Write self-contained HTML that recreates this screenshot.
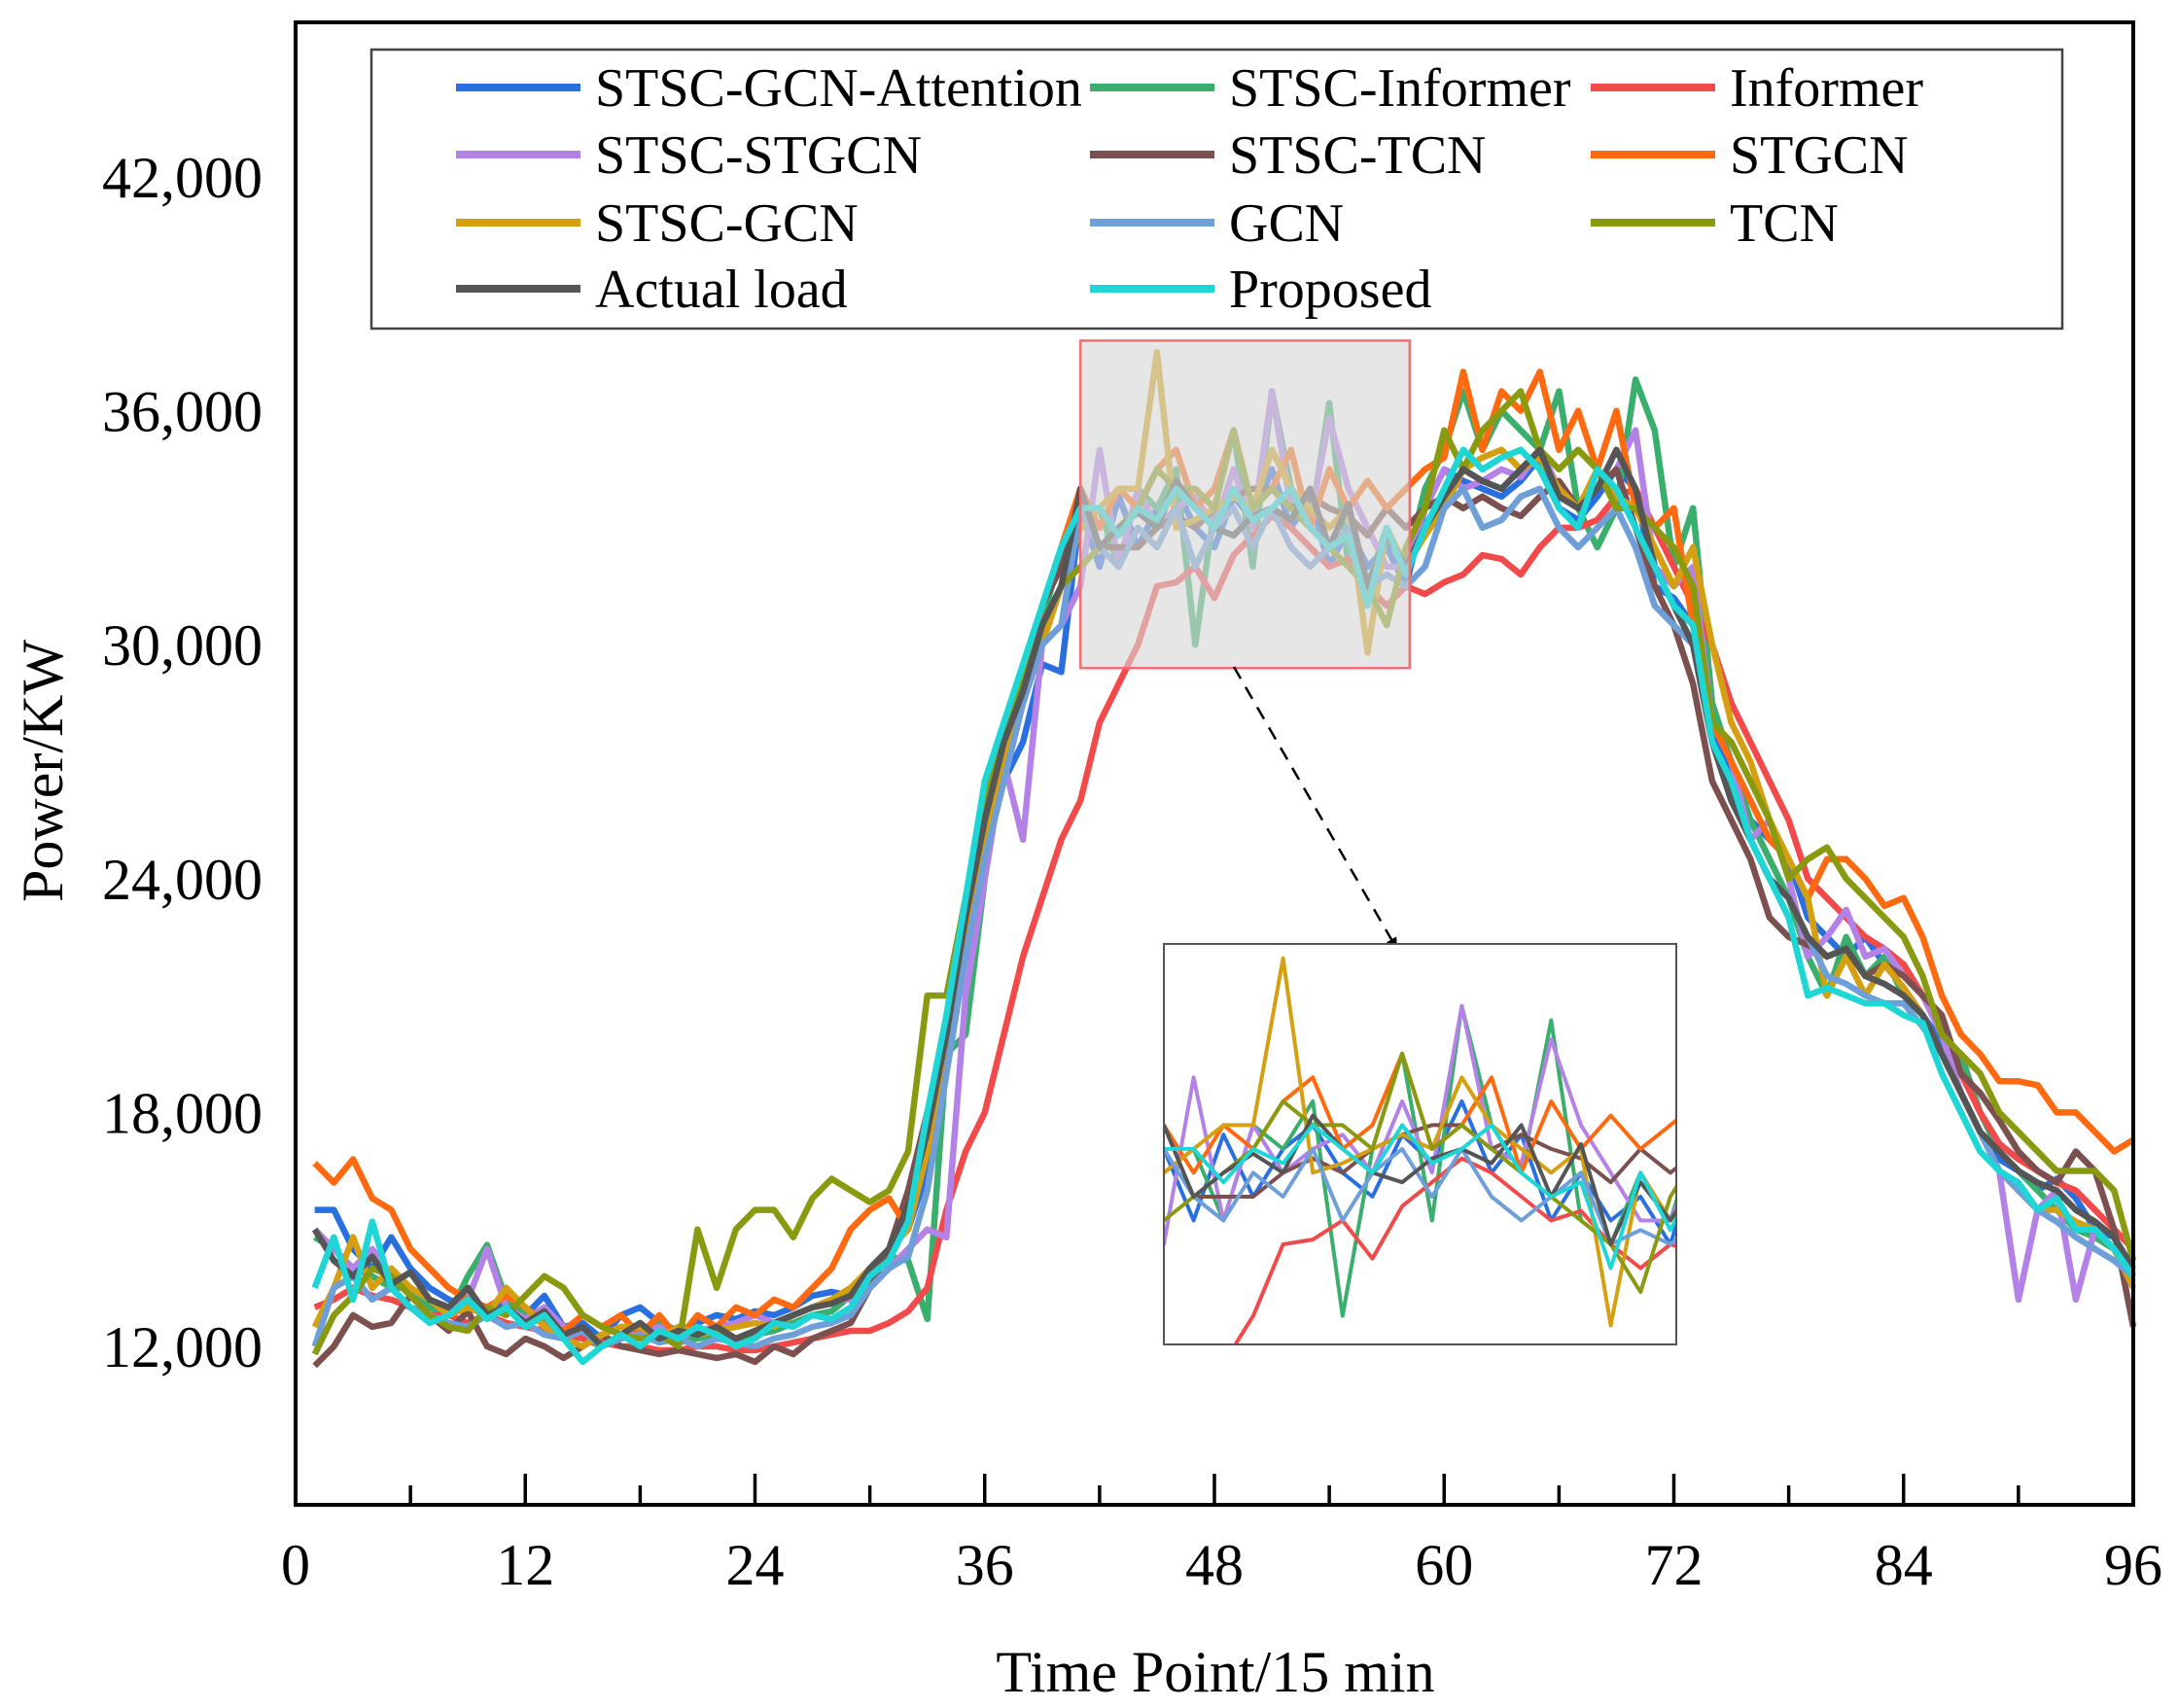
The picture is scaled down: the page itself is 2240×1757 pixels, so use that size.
<!DOCTYPE html>
<html><head><meta charset="utf-8"><style>
html,body{margin:0;padding:0;background:#fff;}
svg{display:block;}
svg text{font-family:"Liberation Serif","Times New Roman",serif;}
</style></head><body>
<svg id="chart" width="2240" height="1757" viewBox="0 0 2240 1757" xmlns="http://www.w3.org/2000/svg">
<defs><clipPath id="insetClip"><rect x="1197" y="971" width="527" height="412"/></clipPath>
<marker id="arrowHead" markerWidth="12" markerHeight="12" refX="10" refY="6" orient="auto" markerUnits="userSpaceOnUse"><path d="M0,0 L12,6 L0,12 z" fill="#000"/></marker></defs>
<rect x="0" y="0" width="2240" height="1757" fill="#fff"/>
<g id="mainLines"></g>
<g id="zoomRect"></g>
<g id="axes"></g>
<g id="inset"></g>
<g id="legend"></g>
</svg>
<script>
const timePoints = Array.from({length:96},(_,i)=>i+1);
const xTicks = [0,12,24,36,48,60,72,84,96];
const yTicks = [12000,18000,24000,30000,36000,42000];
const seriesNames = ["STSC-GCN-Attention","STSC-Informer","Informer","STSC-STGCN","STSC-TCN","STGCN","STSC-GCN","GCN","TCN","Actual load","Proposed"];
const seriesColors = ["#2a6fe0","#3aae6c","#f24a4a","#b482e6","#7d5050","#ff6a10","#d4a012","#6f9fd8","#8a9a10","#555555","#1ed6d6"];
const stscGcnAttention = [15.5,15.5,14.5,14.0,14.8,14.0,13.5,13.2,13.0,12.8, 13.2,12.8,13.3,12.5,12.6,12.2,12.8,13.0,12.6,12.4, 12.6,12.8,12.7,12.9,12.8,13.0,13.3,13.4,13.3,13.8, 14.5,15.0,16.5,19.5,22.0,24.5,26.5,27.5,29.5,29.3, 33.5,32.0,33.8,32.5,33.5,34.0,33.0,32.5,33.8,33.2, 34.5,33.0,33.8,32.0,33.0,32.0,32.5,31.5, 33.5,34.5,34.2,34.0,33.8,34.2,34.8,33.5,33.2,33.8,34.5,34.0, 31.5,31.2,30.5,28.0,26.5,25.5,25.0,24.5,23.0,22.5, 22.0,22.5,21.8,21.2,20.5,19.8,18.5,17.5,16.8,16.5, 16.0,16.3,15.8,15.0,14.8,13.8];
const stscInformer = [14.8,14.5,14.0,13.8,13.5,13.5,13.0,12.8,13.8,14.6, 13.2,12.8,12.7,12.5,12.2,12.0,12.3,12.4,12.6,12.1, 12.2,12.3,12.1,12.3,12.4,12.6,12.8,12.9,13.3,14.0, 14.3,14.2,12.7,19.5,20.0,24.0,27.0,29.0,30.5,32.5, 33.0,33.5,32.0,34.0,33.5,34.5,30.0,33.5,35.5,32.0, 36.5,34.0,33.0,36.2,32.0,31.5,33.0,32.0, 34.0,35.0,36.5,35.0,36.0,35.5,35.0,36.5,33.5,32.5,33.5,36.8, 35.5,32.0,33.5,28.5,27.0,25.5,24.5,23.5,22.0,21.0, 22.5,21.5,22.0,21.0,20.5,19.5,19.5,18.0,17.0,16.5, 16.0,15.5,15.0,14.8,14.5,13.8];
const informer = [13.0,13.2,13.5,13.3,13.2,13.0,12.8,12.8,12.6,12.8, 12.6,12.5,12.4,12.3,12.2,12.1,12.0,12.0,11.9,11.9, 12.0,12.0,11.9,11.9,12.0,12.1,12.2,12.3,12.4,12.4, 12.6,12.9,13.5,15.5,17.0,18.0,20.0,22.0,23.5,25.0, 26.0,28.0,29.0,30.0,31.5,31.6,32.0,31.2,32.3,32.8, 33.3,33.0,32.5,32.0,32.2,31.5,31.0,31.5, 31.3,31.6,31.8,32.3,32.2,31.8,32.5,33.0,33.0,33.2,33.8,34.0, 33.0,32.0,31.0,30.0,28.5,27.5,26.5,25.5,24.0,23.5, 23.0,22.5,22.2,21.8,21.0,20.0,19.0,18.0,17.2,16.8, 16.5,16.2,16.0,15.5,15.0,14.5];
const stscStgcn = [15.0,14.5,14.0,14.5,13.8,13.5,13.2,13.0,13.2,14.5, 13.0,12.7,13.0,12.5,12.4,12.0,12.3,12.4,12.5,12.2, 12.4,12.5,12.6,12.8,12.6,12.8,13.0,13.2,13.2,13.5, 14.0,14.5,15.0,14.8,21.0,24.0,27.0,25.0,30.0,30.5, 31.5,35.0,32.0,34.0,33.0,33.5,33.8,33.0,34.5,33.0, 36.5,33.5,33.2,35.8,34.0,33.0,32.0,32.0, 33.5,34.5,34.0,34.2,34.5,34.3,35.0,34.0,33.5,34.0,34.5,35.5, 32.0,31.5,32.0,28.0,27.0,25.0,25.5,24.0,22.0,22.5, 23.2,22.0,22.2,21.5,21.0,20.0,18.5,17.5,16.5,13.2, 15.5,16.0,13.2,15.0,14.5,13.5];
const stscTcn = [11.5,12.0,12.8,12.5,12.6,13.3,12.8,12.4,12.9,12.0, 11.8,12.2,12.0,11.7,12.0,12.3,12.0,11.9,11.8,11.9, 11.8,11.7,11.8,11.6,12.0,11.8,12.2,12.4,12.6,13.5, 14.5,16.0,18.0,20.0,22.5,24.5,27.0,29.0,31.0,32.0, 34.0,32.5,32.5,32.5,33.0,33.3,33.0,33.5,33.8,34.0, 34.0,33.5,33.8,33.5,33.3,32.8,33.5,33.0, 33.5,33.8,33.5,33.8,33.5,33.3,33.8,34.2,33.5,34.0,34.5,33.0, 31.5,30.5,29.0,26.5,25.5,24.5,23.0,22.5,22.3,22.0, 22.2,21.5,21.8,21.5,21.0,20.5,19.0,18.5,17.8,17.0, 16.5,16.2,17.0,16.5,15.0,12.5];
const stgcn = [16.7,16.2,16.8,15.8,15.5,14.5,14.0,13.5,13.2,13.0, 13.3,13.0,12.6,12.4,12.8,12.5,12.8,12.3,12.8,12.2, 12.8,12.5,13.0,12.8,13.2,13.0,13.5,14.0,15.0,15.5, 15.8,15.0,17.0,20.0,23.0,25.5,27.5,29.0,31.0,32.5, 34.0,33.0,34.0,33.5,34.5,35.0,33.5,34.0,35.5,33.5, 34.0,35.0,33.0,34.5,33.5,34.2,33.5,34.0, 34.5,34.8,37.0,35.0,36.5,36.0,37.0,35.0,36.0,34.5,36.0,33.5, 33.0,33.5,30.5,28.0,27.0,26.0,25.0,24.5,23.5,24.5, 24.5,24.0,23.3,23.5,22.5,21.0,20.0,19.5,18.8,18.8, 18.7,18.0,18.0,17.5,17.0,17.3];
const stscGcn = [12.5,13.5,14.8,13.5,14.0,13.5,13.2,12.8,13.0,12.8, 13.5,13.0,12.5,12.2,12.0,12.3,12.5,12.5,12.2,12.5, 12.3,12.4,12.5,12.6,12.5,12.8,13.0,13.2,13.5,14.0, 14.5,15.0,17.0,20.0,22.5,25.0,27.0,28.5,30.0,31.5, 33.0,33.5,34.0,34.0,37.5,33.0,33.2,33.5,33.8,33.5, 35.0,34.0,33.5,33.0,33.5,29.8,33.0,32.0, 32.8,33.5,34.5,34.8,35.0,34.5,34.8,34.0,33.5,34.5,33.8,33.5, 32.5,31.5,32.5,30.0,28.0,27.0,25.5,24.5,23.5,21.0, 22.0,21.0,21.8,21.2,20.5,19.5,18.5,17.5,16.5,16.0, 15.5,15.5,15.2,15.0,14.5,13.5];
const gcn = [12.0,13.5,13.8,13.2,13.5,13.0,12.8,12.6,12.5,12.8, 12.5,12.6,12.3,12.2,12.4,12.0,12.2,12.3,12.1,12.2, 12.0,12.2,12.1,12.0,12.2,12.3,12.5,12.6,12.8,13.5, 14.0,14.3,16.0,19.0,22.0,24.5,26.5,28.5,30.0,30.5, 33.5,32.5,32.0,33.0,32.5,33.5,32.0,33.0,33.5,32.5, 33.5,32.5,32.0,32.5,33.0,31.5,31.8,31.5, 32.0,33.5,34.0,33.0,33.2,33.8,34.0,33.0,32.5,33.0,33.5,32.5, 31.0,30.5,30.0,27.5,26.0,25.0,24.0,23.5,22.5,21.5, 21.3,21.0,20.8,20.8,20.2,19.5,18.5,17.5,16.5,16.0, 15.5,15.2,14.8,14.5,14.2,13.8];
const tcn = [11.8,12.8,13.3,14.0,13.8,13.3,12.8,12.5,12.4,13.0, 12.8,13.3,13.8,13.5,12.8,12.5,12.3,12.2,12.3,12.0, 15.0,13.5,15.0,15.5,15.5,14.8,15.8,16.3,16.0,15.7, 16.0,17.0,21.0,21.0,23.5,26.0,28.0,29.0,30.5,31.5, 32.0,32.5,33.0,33.5,34.5,34.0,34.0,33.5,35.5,33.5, 34.0,33.5,33.0,32.5,32.0,31.5,30.5,32.5, 33.5,35.5,34.5,35.5,36.0,36.5,35.0,34.5,35.0,34.5,33.5,33.5, 33.0,32.5,31.5,28.0,27.5,26.5,25.5,24.0,24.5,24.8, 24.0,23.5,23.0,22.5,21.5,20.0,19.5,19.0,18.0,17.5, 17.0,16.5,16.5,16.5,16.0,14.2];
const actualLoad = [15.0,14.2,13.8,14.3,13.6,13.9,13.2,13.0,13.5,12.8, 13.0,12.6,12.9,12.3,12.5,12.0,12.3,12.6,12.2,12.4, 12.3,12.5,12.2,12.4,12.6,12.8,13.0,13.1,13.3,14.0, 14.5,15.6,17.5,20.0,23.0,25.5,27.5,28.8,30.5,31.5, 34.0,32.5,33.0,33.4,33.0,34.2,33.5,33.0,32.8,33.3, 33.5,33.2,34.0,32.5,33.6,31.5,32.8,32.0, 33.0,33.8,34.5,34.2,34.0,34.5,35.0,33.8,33.5,34.0,35.0,34.0, 32.0,31.0,30.0,27.5,26.0,25.0,24.0,23.5,22.5,22.0, 22.2,21.5,21.3,21.0,20.5,19.5,18.5,17.5,17.0,16.5, 16.2,16.0,15.5,15.2,14.8,14.0];
const proposed = [13.5,14.8,13.2,15.2,13.5,13.0,12.6,12.8,13.2,12.7, 13.0,12.5,12.8,12.2,11.6,12.0,12.3,12.0,12.4,12.2, 12.5,12.3,12.0,12.2,12.6,12.5,12.8,12.7,13.0,13.8, 14.2,15.2,18.0,20.5,23.5,26.5,28.0,29.5,31.0,32.5, 33.5,33.5,32.8,33.5,33.2,34.0,33.5,33.0,34.0,33.2, 33.5,34.0,33.0,32.5,32.8,31.0,33.0,31.8, 33.0,34.0,35.0,34.5,34.8,35.0,34.5,33.5,33.0,34.5,34.0,33.0, 32.0,31.0,30.5,27.5,26.5,25.0,24.0,23.0,21.0,21.2, 21.0,20.8,20.8,20.5,20.3,19.0,18.0,17.0,16.5,16.2, 15.5,15.8,15.0,15.0,14.5,13.8];
const allSeries = [stscGcnAttention,stscInformer,informer,stscStgcn,stscTcn,stgcn,stscGcn,gcn,tcn,actualLoad,proposed];
const zoomXRange = [41,58.2];
const zoomYRange = [29400,37800];

const NS="http://www.w3.org/2000/svg";
const FONT='"Liberation Serif","Times New Roman",serif';
function mk(tag,attrs,parent){const e=document.createElementNS(NS,tag);for(const k in attrs)e.setAttribute(k,attrs[k]);parent.appendChild(e);return e;}
const X0=304,X1=2194,Y0=23,Y1=1548;
const xScale=v=>X0+(v-0)/96*(X1-X0);
const yScale=v=>182+(42000-v)*(1203/30000);
const ixScale=v=>1197+(v-zoomXRange[0])/(zoomXRange[1]-zoomXRange[0])*527;
const iyScale=v=>971+(zoomYRange[1]-v)/(zoomYRange[1]-zoomYRange[0])*412;

const mainG=document.getElementById('mainLines');
allSeries.forEach((s,si)=>{
  const d=s.map((v,i)=>(i?'L':'M')+xScale(timePoints[i]).toFixed(1)+','+yScale(v*1000).toFixed(1)).join(' ');
  const p=mk('path',{d:d,fill:'none',stroke:seriesColors[si],'stroke-width':6.5,'stroke-linejoin':'round'},mainG);
  
  
});

const zr=document.getElementById('zoomRect');
const zx=xScale(zoomXRange[0]),zx2=xScale(zoomXRange[1]),zy=yScale(zoomYRange[1]),zy2=yScale(zoomYRange[0]);
const zrect=mk('rect',{x:zx,y:zy,width:zx2-zx,height:zy2-zy,fill:'#d6d6d6','fill-opacity':0.62,stroke:'#f07070','stroke-width':2.5},zr);


const arr=mk('line',{x1:1269,y1:686,x2:1436,y2:975,stroke:'#000','stroke-width':2.5,'stroke-dasharray':'14,10','marker-end':'url(#arrowHead)'},zr);



const ax=document.getElementById('axes');
const frame=mk('rect',{x:X0,y:Y0,width:X1-X0,height:Y1-Y0,fill:'none',stroke:'#000','stroke-width':4},ax);


for(let v=6;v<96;v+=6){
  const major=v%12===0;
  const t=mk('line',{x1:xScale(v),x2:xScale(v),y1:Y1,y2:Y1-(major?32:20),stroke:'#000','stroke-width':3.5},ax);
  
  
}
xTicks.forEach(v=>{
  const t=mk('text',{x:xScale(v),y:1630,'font-size':60,'font-family':FONT,'text-anchor':'middle',fill:'#000'},ax);
  t.textContent=String(v);
  
  
});
yTicks.forEach(v=>{
  const t=mk('text',{x:270,y:yScale(v)+21,'font-size':60,'font-family':FONT,'text-anchor':'end',fill:'#000'},ax);
  t.textContent=v.toLocaleString('en-US');
  
  
});
const xt=mk('text',{x:1250,y:1740,'font-size':60,'font-family':FONT,'text-anchor':'middle',fill:'#000'},ax);
xt.textContent='Time Point/15 min';


const yt=mk('text',{x:0,y:0,'font-size':60,'font-family':FONT,'text-anchor':'middle',fill:'#000',transform:'translate(64,793) rotate(-90)'},ax);
yt.textContent='Power/KW';



const ins=document.getElementById('inset');
const ibg=mk('rect',{x:1197,y:971,width:527,height:412,fill:'#fff'},ins);


const ig=mk('g',{'clip-path':'url(#insetClip)'},ins);
allSeries.forEach((s,si)=>{
  const pts=[];
  s.forEach((v,i)=>{const t=timePoints[i];if(t>=zoomXRange[0]-1&&t<=zoomXRange[1]+1)pts.push(ixScale(t).toFixed(1)+','+iyScale(v*1000).toFixed(1));});
  const p=mk('path',{d:'M'+pts.join(' L'),fill:'none',stroke:seriesColors[si],'stroke-width':4,'stroke-linejoin':'round'},ig);
  
  
});
const ib=mk('rect',{x:1197,y:971,width:527,height:412,fill:'none',stroke:'#555','stroke-width':2},ins);



const lg=document.getElementById('legend');
const lbox=mk('rect',{x:382,y:51,width:1739,height:287,fill:'#fff',stroke:'#444','stroke-width':2.5},lg);


const colX=[469,1121,1636],rowY=[90,159,229,297];
seriesNames.forEach((n,i)=>{
  const c=i%3,r=Math.floor(i/3);
  const g=mk('g',{},lg);
  
  
  mk('line',{x1:colX[c],x2:colX[c]+128,y1:rowY[r],y2:rowY[r],stroke:seriesColors[i],'stroke-width':8},g);
  const t=mk('text',{x:colX[c]+143,y:rowY[r]+19,'font-size':56,'font-family':FONT,fill:'#000'},g);
  t.textContent=n;
});
</script>
</body></html>
